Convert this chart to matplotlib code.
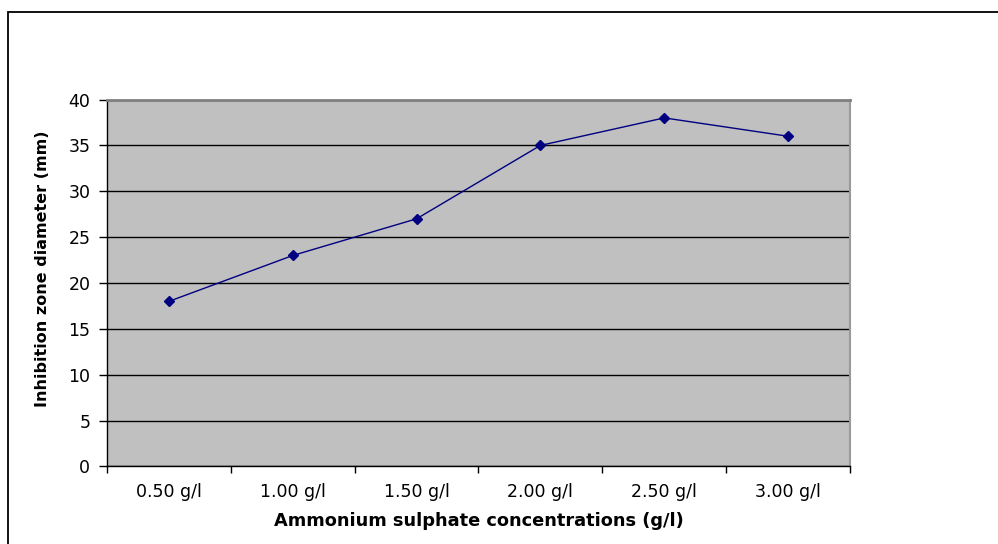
import matplotlib.pyplot as plt
from matplotlib.patches import Rectangle

concentrations = ['0.50 g/l', '1.00 g/l', '1.50 g/l', '2.00 g/l', '2.50 g/l', '3.00 g/l']
zone_diameter = [18, 23, 27, 35, 38, 36]
y_ticks = [0, 5, 10, 15, 20, 25, 30, 35, 40]

plt.rcParams['font.family'] = ['DejaVu Sans']

fig = plt.figure(figsize=(9.98, 5.44), dpi=100)
ax = fig.add_axes([0.1072, 0.1425, 0.7445, 0.6745])

# outer chart frame
fig.patches.append(Rectangle((8 / 998, -0.1), 1.2, 1 - 12 / 544 + 0.1,
                             transform=fig.transFigure, fill=False,
                             edgecolor='black', linewidth=1.3))

ax.set_facecolor('#C0C0C0')
x = range(len(concentrations))
ax.plot(x, zone_diameter, color='#000080', linewidth=1.0, marker='D',
        markersize=5.5, markerfacecolor='#000080', markeredgecolor='#000080',
        zorder=3)

ax.set_xlim(-0.5, len(concentrations) - 0.5)
ax.set_ylim(0, 40)
ax.set_yticks(y_ticks)
ax.yaxis.grid(True, color='black', linewidth=1.0)
ax.set_axisbelow(True)

# category labels centred, tick marks between categories
ax.set_xticks([i - 0.5 for i in range(len(concentrations) + 1)])
ax.set_xticklabels([])
ax.set_xticks(list(x), minor=True)
ax.set_xticklabels(concentrations, minor=True, fontsize=12.5)
ax.tick_params(axis='x', which='minor', length=0, pad=12)
ax.tick_params(axis='x', which='major', length=5, width=1.0, direction='out')
ax.tick_params(axis='y', length=6, width=1.0, direction='out', labelsize=12.5, pad=6)

for side in ['left', 'bottom']:
    ax.spines[side].set_color('black')
    ax.spines[side].set_linewidth(1.0)
ax.spines['top'].set_color('#808080')
ax.spines['top'].set_linewidth(2.0)
ax.spines['right'].set_color('#999999')
ax.spines['right'].set_linewidth(1.5)

ax.set_xlabel('Ammonium sulphate concentrations (g/l)', fontsize=12.8,
              fontweight='bold', labelpad=8)
ax.set_ylabel('Inhibition zone diameter (mm)', fontsize=11.5,
              fontweight='bold')
ax.yaxis.set_label_coords(-0.0766, 0.538)

fig.savefig('out.png', dpi=100)
